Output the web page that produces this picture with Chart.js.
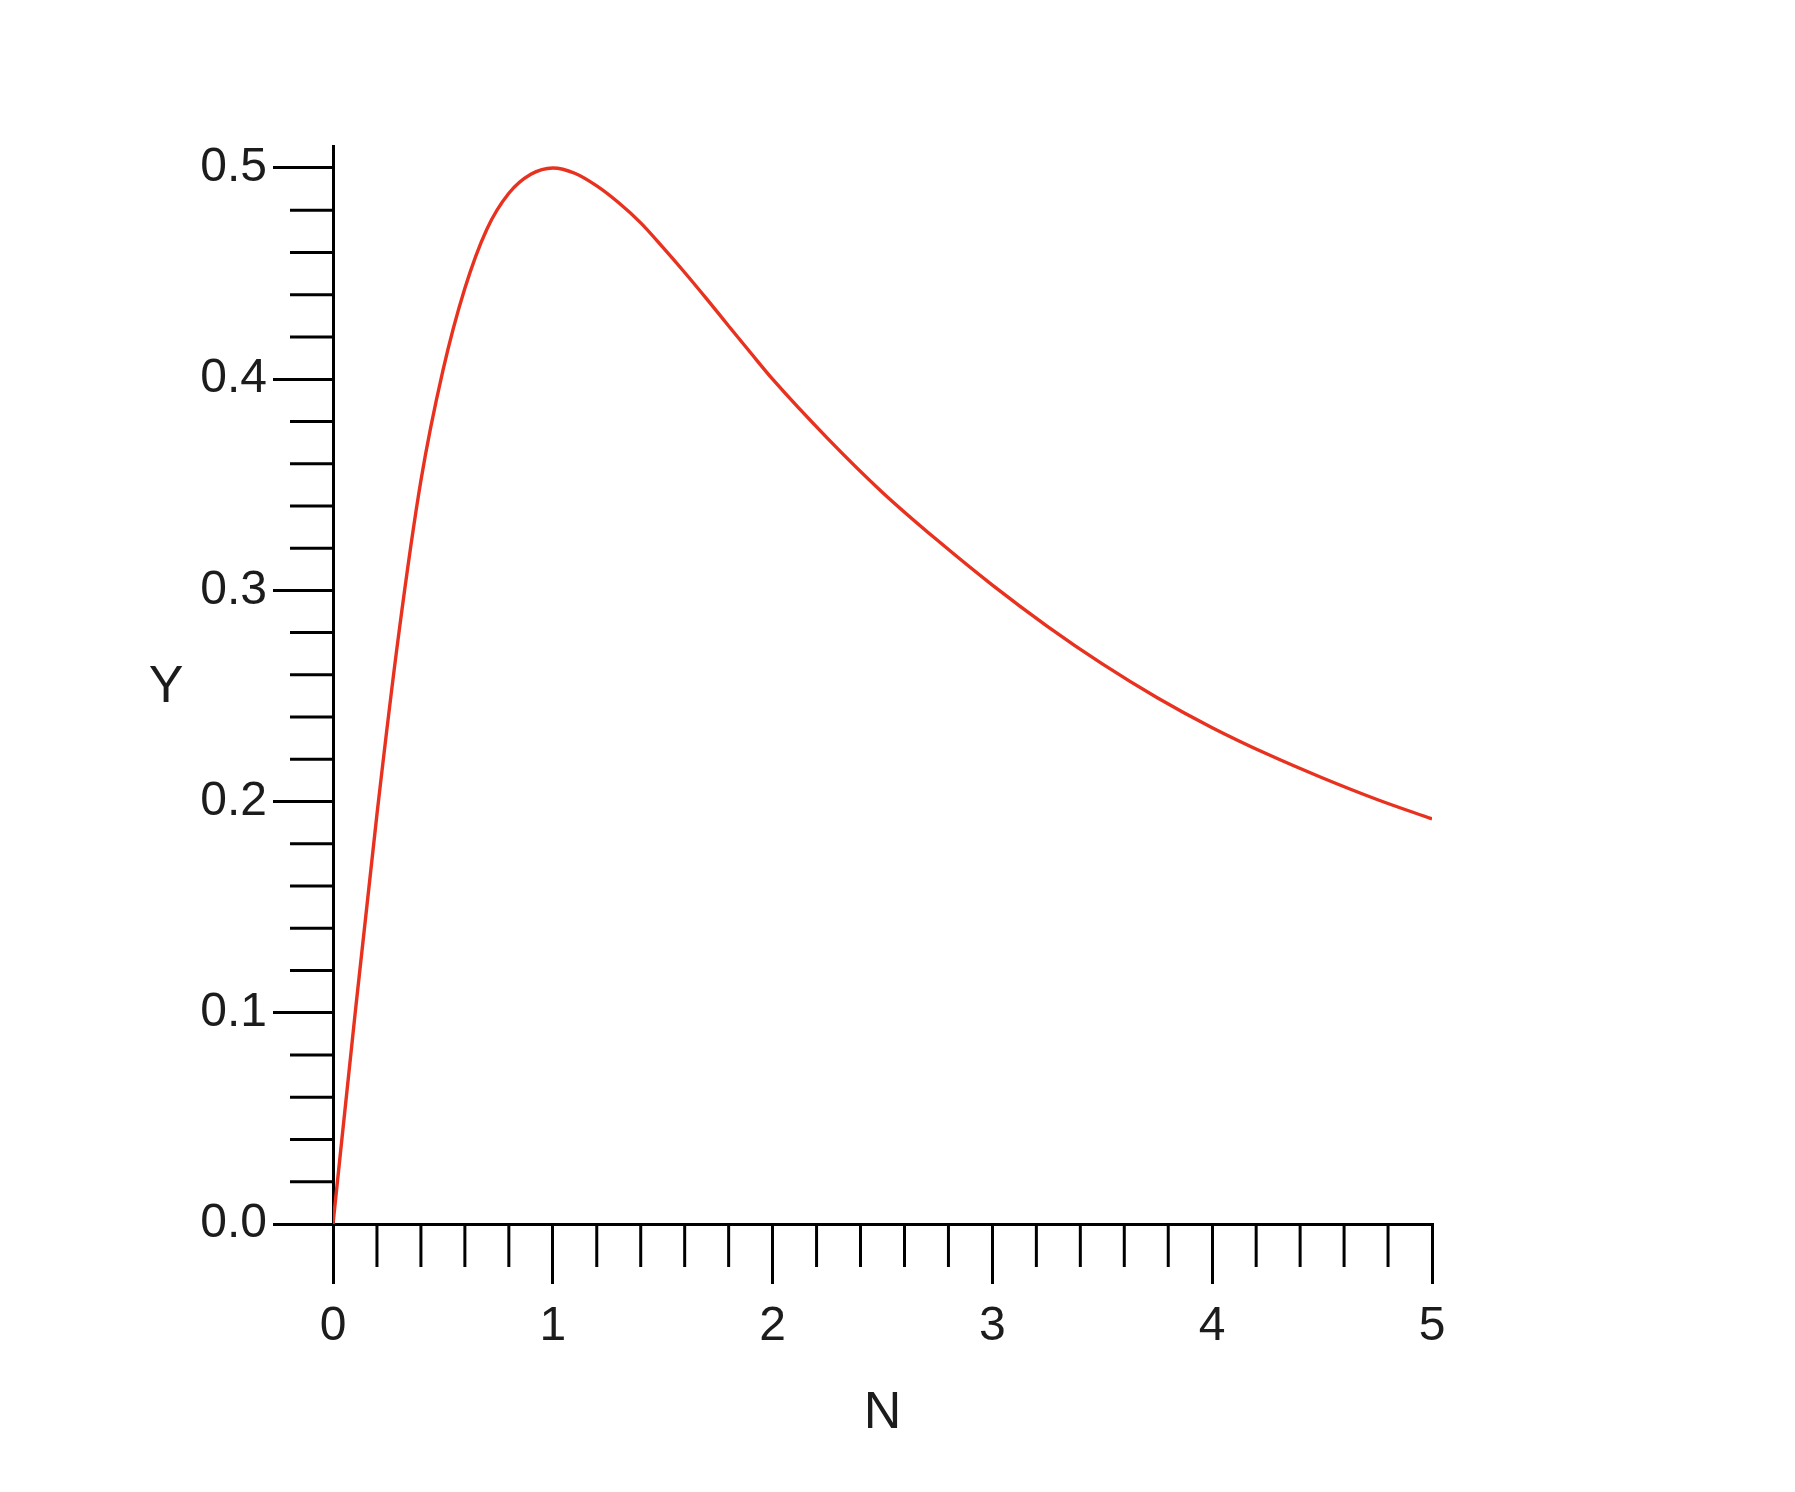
<!DOCTYPE html>
<html>
<head>
<meta charset="utf-8">
<script src="https://cdn.jsdelivr.net/npm/chart.js@4.4.1/dist/chart.umd.min.js"></script>
<style>
  html, body { margin: 0; padding: 0; background: #ffffff; }
  #wrap { width: 1795px; height: 1492px; }
</style>
</head>
<body>
<div id="wrap"><canvas id="c" width="1795" height="1492"></canvas></div>
<script>
// ---- data ----
const nValues = [0, 0.1, 0.2, 0.3, 0.4, 0.5, 0.6, 0.7, 0.8, 0.9, 1.0, 1.1, 1.2, 1.3, 1.4, 1.5, 1.6, 1.7, 1.8, 1.9, 2.0,
                 2.25, 2.5, 2.75, 3.0, 3.25, 3.5, 3.75, 4.0, 4.25, 4.5, 4.75, 5.0];
const yValues = [0, 0.099, 0.194, 0.280, 0.352, 0.404, 0.443, 0.471, 0.488, 0.497, 0.500, 0.4975, 0.4915, 0.4835, 0.474, 0.4625, 0.4505, 0.438, 0.4252, 0.4125, 0.400,
                 0.372, 0.3464, 0.3237, 0.3025, 0.2830, 0.2652, 0.2492, 0.2350, 0.2225, 0.2113, 0.2010, 0.1918];
const xTickLabels = ['0', '1', '2', '3', '4', '5'];
const yTickLabels = ['0.0', '0.1', '0.2', '0.3', '0.4', '0.5'];
const xTitle = 'N';
const yTitle = 'Y';

const FONT = '"Liberation Sans", Arial, Helvetica, sans-serif';
const TEXT = '#1c1c1c';

const points = nValues.map((n, i) => ({ x: n, y: yValues[i] }));

function isMajor(v, step) {
  const r = v / step;
  return Math.abs(r - Math.round(r)) < 1e-6;
}

const axisPlugin = {
  id: 'axisDecor',
  afterDraw(chart) {
    const ctx = chart.ctx;
    const xs = chart.scales.x, ys = chart.scales.y;
    const x0 = xs.getPixelForValue(0);
    const y0 = ys.getPixelForValue(0);
    ctx.save();
    ctx.strokeStyle = '#000';
    ctx.lineWidth = 3;
    ctx.lineCap = 'butt';
    // minor ticks on y
    ys.ticks.forEach(t => {
      if (!isMajor(t.value, 0.1)) {
        const py = ys.getPixelForValue(t.value);
        ctx.beginPath(); ctx.moveTo(x0 - 43, py); ctx.lineTo(x0, py); ctx.stroke();
      }
    });
    // minor ticks on x
    xs.ticks.forEach(t => {
      if (!isMajor(t.value, 1)) {
        const px = xs.getPixelForValue(t.value);
        ctx.beginPath(); ctx.moveTo(px, y0); ctx.lineTo(px, y0 + 43); ctx.stroke();
      }
    });
    // upright Y title
    ctx.fillStyle = TEXT;
    ctx.font = '52px ' + FONT;
    ctx.textAlign = 'center';
    ctx.textBaseline = 'middle';
    ctx.fillText(yTitle, x0 - 167, ys.getPixelForValue(0.254));
    ctx.restore();
  }
};

new Chart(document.getElementById('c'), {
  type: 'line',
  data: {
    datasets: [{
      data: points,
      borderColor: '#e8321f',
      borderWidth: 3.4,
      pointRadius: 0,
      fill: false,
      cubicInterpolationMode: 'monotone'
    }]
  },
  options: {
    responsive: false,
    animation: false,
    devicePixelRatio: 1,
    layout: { padding: { left: 0, top: 146, right: 363, bottom: 0 } },
    plugins: { legend: { display: false }, tooltip: { enabled: false } },
    scales: {
      x: {
        type: 'linear',
        min: 0, max: 5,
        afterFit(s) { s.height = 268; },
        border: { display: true, color: '#000', width: 3 },
        grid: {
          drawOnChartArea: false,
          drawTicks: true,
          tickLength: 60,
          lineWidth: 3,
          tickWidth: 3,
          tickColor: c => (c.tick && isMajor(c.tick.value, 1)) ? '#000' : 'rgba(0,0,0,0)'
        },
        ticks: {
          stepSize: 0.2,
          autoSkip: false,
          maxRotation: 0,
          padding: 14,
          color: TEXT,
          font: { family: FONT, size: 48 },
          callback: v => isMajor(v, 1) ? xTickLabels[Math.round(v)] : ''
        },
        title: {
          display: true,
          text: xTitle,
          color: TEXT,
          font: { family: FONT, size: 52 },
          padding: { top: 0, bottom: 47 }
        }
      },
      y: {
        type: 'linear',
        min: 0, max: 0.5104,
        afterFit(s) { s.width = 333; },
        border: { display: true, color: '#000', width: 3 },
        grid: {
          drawOnChartArea: false,
          drawTicks: true,
          tickLength: 60,
          lineWidth: 3,
          tickWidth: 3,
          tickColor: c => (c.tick && isMajor(c.tick.value, 0.1)) ? '#000' : 'rgba(0,0,0,0)'
        },
        ticks: {
          stepSize: 0.02,
          includeBounds: false,
          autoSkip: false,
          padding: 6,
          color: TEXT,
          font: { family: FONT, size: 48 },
          callback: v => isMajor(v, 0.1) ? yTickLabels[Math.round(v * 10)] : ''
        }
      }
    }
  },
  plugins: [axisPlugin]
});
</script>
</body>
</html>
